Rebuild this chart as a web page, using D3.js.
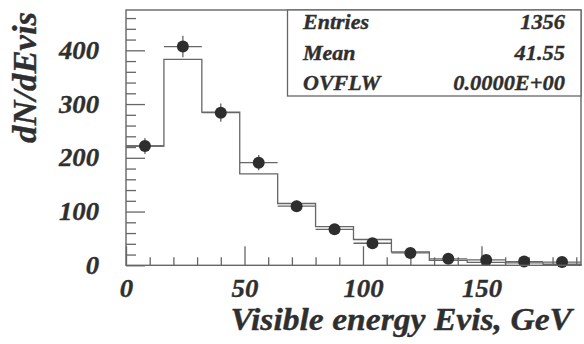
<!DOCTYPE html>
<html>
<head>
<meta charset="utf-8">
<script src="https://cdn.jsdelivr.net/npm/d3@7/dist/d3.min.js"></script>
<style>
  html, body { margin: 0; padding: 0; background: #ffffff; }
  svg { display: block; }
  text { font-family: "Liberation Serif", "Times New Roman", serif; font-weight: bold; font-style: italic; fill: #2f2f2f; stroke: #2f2f2f; stroke-width: 0.35px; }
</style>
</head>
<body>
<svg id="chart" width="584" height="344"></svg>
<script>
// Visible-energy spectrum: 16 GeV bins from 0 to 192 GeV
const binEdges = [0, 16, 32, 48, 64, 80, 96, 112, 128, 144, 160, 176, 192];
// Simulated distribution (step histogram)
const mcCounts = [222, 383, 285, 170, 115, 72, 48, 25, 9, 5.5, 4.5, 2];
// Measured points with statistical errors
const dataCounts = [222, 407, 284, 191, 110, 67, 41, 23, 12, 10, 7, 6];
const dataErrors = [15, 20, 17, 14, 10.5, 8, 6.5, 5, 3.5, 3, 2.6, 2.4];

const yMajorTicks = [0, 100, 200, 300, 400];
const yMinorTicks = d3.range(20, 461, 20).filter(v => v % 100 !== 0);
const xMajorTicks = [0, 50, 100, 150];
const xMinorTicks = d3.range(10, 191, 10).filter(v => v % 50 !== 0);

const statLabels = ["Entries", "Mean", "OVFLW"];
const statValues = ["1356", "41.55", "0.0000E+00"];

const svg = d3.select("#chart");
const frameL = 126, frameR = 581, frameT = 10, frameB = 265.3;

const x = d3.scaleLinear().domain([0, 192]).range([frameL, frameR]);
const y = d3.scaleLinear().domain([0, 475]).range([frameB, frameT]);

const lineColor = "#666";

// Widen glyphs slightly, as in the wide Times bold-italic face
function widen(sel, factor) {
  sel.each(function () {
    const w = this.getComputedTextLength();
    d3.select(this).attr("textLength", w * factor).attr("lengthAdjust", "spacingAndGlyphs");
  });
}

// Axes: ticks point into the frame
const yMajor = svg.append("g").attr("transform", `translate(${frameL},0)`)
  .call(d3.axisLeft(y).tickValues(yMajorTicks).tickSizeInner(-19).tickSizeOuter(0).tickPadding(27));
const yMinor = svg.append("g").attr("transform", `translate(${frameL},0)`)
  .call(d3.axisLeft(y).tickValues(yMinorTicks).tickSizeInner(-10).tickSizeOuter(0).tickFormat(""));
const xMajor = svg.append("g").attr("transform", `translate(0,${frameB})`)
  .call(d3.axisBottom(x).tickValues(xMajorTicks).tickSizeInner(-19).tickSizeOuter(0).tickPadding(14));
const xMinor = svg.append("g").attr("transform", `translate(0,${frameB})`)
  .call(d3.axisBottom(x).tickValues(xMinorTicks).tickSizeInner(-8).tickSizeOuter(0).tickFormat(""));

[yMajor, yMinor, xMajor, xMinor].forEach(g => {
  g.select(".domain").remove();
  g.selectAll(".tick line").attr("stroke", lineColor).attr("stroke-width", 1.3);
  g.selectAll(".tick text").attr("font-size", 25).attr("fill", "#2f2f2f")
    .style("font-family", '"Liberation Serif", serif').style("font-weight", "bold").style("font-style", "italic");
});
widen(yMajor.selectAll(".tick text"), 1.07);
widen(xMajor.selectAll(".tick text"), 1.07);

// Simulated histogram as a step line
const stepPts = mcCounts.map((c, i) => [binEdges[i], c]);
stepPts.push([binEdges[binEdges.length - 1], mcCounts[mcCounts.length - 1]]);
svg.append("path")
  .attr("d", d3.line().x(d => x(d[0])).y(d => y(d[1])).curve(d3.curveStepAfter)(stepPts))
  .attr("fill", "none").attr("stroke", lineColor).attr("stroke-width", 1.3);
// vertical drop at the last bin edge
svg.append("line")
  .attr("x1", x(192)).attr("x2", x(192))
  .attr("y1", y(mcCounts[mcCounts.length - 1])).attr("y2", y(0))
  .attr("stroke", lineColor).attr("stroke-width", 1.3);

// Data points with error bars
const pts = dataCounts.map((c, i) => ({ lo: binEdges[i], hi: binEdges[i + 1], c, e: dataErrors[i] }));
const pg = svg.append("g");
pg.selectAll("line.h").data(pts).join("line").attr("class", "h")
  .attr("x1", d => x(d.lo)).attr("x2", d => x(d.hi))
  .attr("y1", d => y(d.c)).attr("y2", d => y(d.c))
  .attr("stroke", lineColor).attr("stroke-width", 1.3);
pg.selectAll("line.v").data(pts).join("line").attr("class", "v")
  .attr("x1", d => x((d.lo + d.hi) / 2)).attr("x2", d => x((d.lo + d.hi) / 2))
  .attr("y1", d => y(d.c - d.e)).attr("y2", d => y(d.c + d.e))
  .attr("stroke", lineColor).attr("stroke-width", 1.3);
pg.selectAll("circle").data(pts).join("circle")
  .attr("cx", d => x((d.lo + d.hi) / 2)).attr("cy", d => y(d.c))
  .attr("r", 6).attr("fill", "#2e2e2e");

// Frame
svg.append("rect")
  .attr("x", frameL).attr("y", frameT).attr("width", frameR - frameL).attr("height", frameB - frameT)
  .attr("fill", "none").attr("stroke", lineColor).attr("stroke-width", 1.4);

// Statistics box
const boxLeft = 287.5, boxBottom = 96;
svg.append("rect")
  .attr("x", boxLeft).attr("y", frameT).attr("width", frameR - boxLeft).attr("height", boxBottom - frameT)
  .attr("fill", "#fff").attr("stroke", lineColor).attr("stroke-width", 1.3);
const statY = [29, 59.5, 90];
const labs = svg.selectAll("text.slab").data(statLabels).join("text").attr("class", "slab")
  .attr("x", 303).attr("y", (d, i) => statY[i]).attr("font-size", 20).text(d => d);
const vals = svg.selectAll("text.sval").data(statValues).join("text").attr("class", "sval")
  .attr("x", 565).attr("y", (d, i) => statY[i]).attr("font-size", 20).attr("text-anchor", "end").text(d => d);
widen(labs, 1.1);
widen(vals, 1.12);

// Axis titles
const yTitle = svg.append("text")
  .attr("transform", "translate(36,12) rotate(-90)")
  .attr("text-anchor", "end").attr("font-size", 33).text("dN/dEvis");
widen(yTitle, 1.05);
const xTitle = svg.append("text")
  .attr("x", 572).attr("y", 330).attr("text-anchor", "end").attr("font-size", 32)
  .text("Visible energy Evis, GeV");
widen(xTitle, 1.05);
</script>
</body>
</html>
